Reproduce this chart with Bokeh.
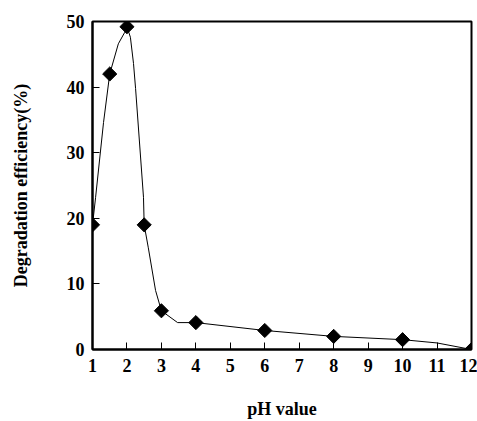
import math
from bokeh.plotting import figure
from bokeh.embed import file_html
from bokeh.resources import INLINE
from bokeh.models import FixedTicker, Range1d

ph = [1, 1.5, 2, 2.5, 3, 4, 6, 8, 10, 12]
efficiency = [19, 42, 49.2, 19, 5.9, 4.1, 2.9, 2.0, 1.5, 0]

# smoothed curve
curve_x = [1, 1.09, 1.32, 1.5, 1.75, 1.93, 2.0, 2.1, 2.19, 2.25, 2.48, 2.5, 2.62, 2.83, 3, 3.47, 4, 6, 8, 10, 11, 12]
curve_y = [19, 23.2, 34.6, 42, 46.6, 48.3, 49.2, 47.6, 43.6, 39.8, 23.2, 19, 15.5, 9, 5.9, 4.1, 4.1, 2.9, 2.0, 1.5, 1.0, 0]

x_ticks = list(range(1, 13))
y_ticks = [0, 10, 20, 30, 40, 50]

FONT = "'Liberation Serif', 'Times New Roman', serif"

p = figure(width=477, height=421, output_backend="svg", toolbar_location=None,
           x_range=Range1d(1, 12), y_range=Range1d(0, 50),
           min_border_left=92, min_border_right=6, min_border_top=21, min_border_bottom=72)

p.line(curve_x, curve_y, line_color="black", line_width=1)
p.scatter(ph, efficiency, marker="square", size=10, angle=math.pi / 4,
          fill_color="black", line_color="black")

p.grid.visible = False
p.outline_line_color = "black"
p.outline_line_width = 2

for ax in (p.xaxis[0], p.yaxis[0]):
    ax.axis_line_width = 2
    ax.axis_line_color = "black"
    ax.major_tick_in = 7
    ax.major_tick_out = 0
    ax.minor_tick_in = 0
    ax.minor_tick_out = 0
    ax.major_tick_line_color = "black"
    ax.major_label_text_font = FONT
    ax.major_label_text_font_style = "bold"
    ax.major_label_text_font_size = "18px"
    ax.major_label_text_color = "black"
    ax.axis_label_text_font = FONT
    ax.axis_label_text_font_style = "bold"
    ax.axis_label_text_font_size = "18px"
    ax.axis_label_text_color = "black"

p.xaxis.ticker = FixedTicker(ticks=x_ticks)
p.yaxis.ticker = FixedTicker(ticks=y_ticks)
p.xaxis.major_label_standoff = 9
p.yaxis.major_label_standoff = 8
p.xaxis.axis_label = "pH value"
p.yaxis.axis_label = "Degradation efficiency(%)"
p.xaxis.axis_label_standoff = 24
p.yaxis.axis_label_standoff = 33

open("out.html", "w").write(file_html(p, INLINE))
